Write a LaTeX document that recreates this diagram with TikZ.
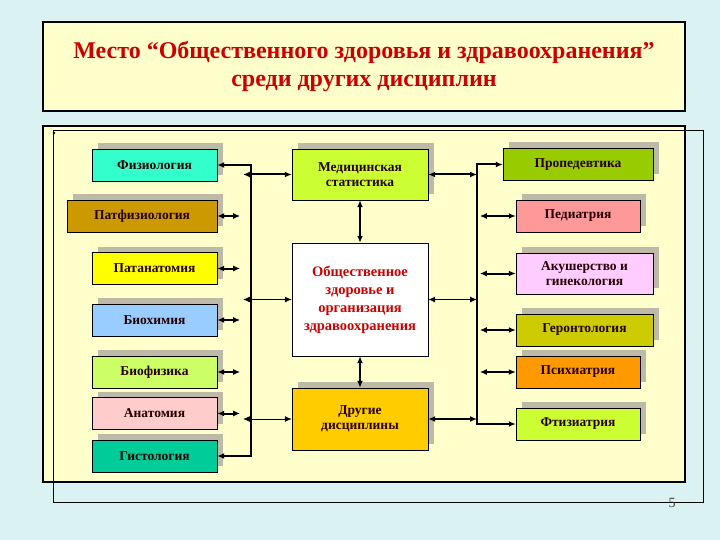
\documentclass[tikz,border=0pt]{standalone}
\usepackage{fontspec}
\setmainfont{Liberation Serif}
\usepackage{xcolor}
\usepackage{tikz}
\usetikzlibrary{arrows.meta,positioning,calc,shadows}
\definecolor{pageCyan}{RGB}{218,242,242}
\definecolor{panelYellow}{RGB}{255,255,204}
\definecolor{shadowGray}{RGB}{190,186,168}
\definecolor{titleRed}{RGB}{204,0,0}
\definecolor{fizColor}{RGB}{51,255,204}
\definecolor{patfizColor}{RGB}{204,153,0}
\definecolor{patanatColor}{RGB}{255,255,0}
\definecolor{biochemColor}{RGB}{153,204,255}
\definecolor{biophysColor}{RGB}{204,255,102}
\definecolor{anatColor}{RGB}{255,204,204}
\definecolor{histColor}{RGB}{0,204,153}
\definecolor{medstatColor}{RGB}{204,255,51}
\definecolor{otherColor}{RGB}{255,204,0}
\definecolor{propedColor}{RGB}{153,204,0}
\definecolor{pediatrColor}{RGB}{255,153,153}
\definecolor{akushColor}{RGB}{255,204,255}
\definecolor{gerontColor}{RGB}{204,204,0}
\definecolor{psychColor}{RGB}{255,153,0}
\definecolor{ftizColor}{RGB}{204,255,51}

\begin{document}
\begin{tikzpicture}[
    x=1pt, y=-1pt,
    frame/.style={draw, line width=2pt, fill=panelYellow},
    box/.style={rectangle, draw, thin, minimum width=125pt, minimum height=32pt, inner sep=2pt, align=center,
        font=\bfseries\fontsize{13.5}{15}\selectfont, text=black!85!red,
        drop shadow={shadow xshift=6pt, shadow yshift=6pt, fill=shadowGray, opacity=1}},
    tip/.style={Latex[length=7pt,width=6pt]},
    arrow/.style={line width=2pt, -{Latex[length=7pt,width=6pt]}},
    darrow/.style={line width=2pt, {Latex[length=7pt,width=6pt]}-{Latex[length=7pt,width=6pt]}},
    tarrow/.style={line width=1pt, {Latex[length=7pt,width=6pt]}-{Latex[length=7pt,width=6pt]}}
]
    % Background
    \fill[pageCyan] (0,0) rectangle (720,540);
    \useasboundingbox (0,0) rectangle (720,540);

    % Title
    \node[frame, minimum width=642pt, minimum height=89pt, align=center, text=titleRed,
        font=\bfseries\fontsize{24}{28}\selectfont] (title) at (364,66.5)
        {Место “Общественного здоровья и здравоохранения”\\среди других дисциплин};

    % Panel
    \node[frame, minimum width=642pt, minimum height=356pt] (panel) at (364,304) {};
    \draw[thin] (53,130) rectangle (703,502);
    \fill (54,133) circle (1.3pt);

    % Left column
    \node[box, fill=fizColor] (fiz) at (154.5,165) {Физиология};
    \node[box, fill=patfizColor, minimum width=150pt] (patfiz) at (142,216) {Патфизиология};
    \node[box, fill=patanatColor] (patanat) at (154.5,268.5) {Патанатомия};
    \node[box, fill=biochemColor] (biochem) at (154.5,320) {Биохимия};
    \node[box, fill=biophysColor] (biophys) at (154.5,372) {Биофизика};
    \node[box, fill=anatColor] (anat) at (154.5,413.5) {Анатомия};
    \node[box, fill=histColor] (hist) at (154.5,456) {Гистология};

    % Centre column
    \node[box, fill=medstatColor, minimum width=136pt, minimum height=51pt] (medstat) at (360,174.5) {Медицинская\\статистика};
    \node[rectangle, draw, thin, fill=white, minimum width=136pt, minimum height=113pt, align=center,
        text=titleRed, font=\bfseries\fontsize{14.5}{18}\selectfont] (ozz) at (360,299.5)
        {Общественное\\здоровье и\\организация\\здравоохранения};
    \node[box, fill=otherColor, minimum width=136pt, minimum height=62pt] (other) at (360,419) {Другие\\дисциплины};

    % Right column
    \node[box, fill=propedColor, minimum width=150pt] (proped) at (578,164.5) {Пропедевтика};
    \node[box, fill=pediatrColor, minimum width=124pt] (pediatr) at (578,216) {Педиатрия};
    \node[box, fill=akushColor, minimum width=137pt, minimum height=41pt] (akush) at (584.5,273.5) {Акушерство и\\гинекология};
    \node[box, fill=gerontColor, minimum width=137pt] (geront) at (584.5,330) {Геронтология};
    \node[box, fill=psychColor, minimum width=124pt] (psych) at (578,372) {Психиатрия};
    \node[box, fill=ftizColor, minimum width=124pt] (ftiz) at (578,424) {Фтизиатрия};

    % Buses
    \coordinate (lbus) at (251,0);
    \coordinate (rbus) at (477,0);
    \draw[darrow] (fiz.east) -- (fiz.east -| lbus) -- (hist.east -| lbus) -- (hist.east);
    \draw[darrow] (proped.west) -- (proped.west -| rbus) -- (ftiz.west -| rbus) -- (ftiz.west);

    % Left arrows
    \foreach \n in {patfiz,patanat,biochem,biophys,anat}
        \draw[darrow] (\n.east) -- ++(23,0);
    \draw[darrow] ([xshift=-8pt]medstat.west -| lbus) -- (medstat.west);
    \draw[tarrow] ([xshift=-8pt]ozz.west -| lbus) -- (ozz.west);
    \draw[tarrow] ([xshift=-8pt]other.west -| lbus) -- (other.west);

    % Centre arrows
    \draw[darrow] (medstat.south) -- (ozz.north);
    \draw[darrow] (ozz.south) -- (other.north);

    % Right arrows
    \draw[darrow] (medstat.east) -- (medstat.east -| rbus);
    \draw[tarrow] (ozz.east) -- (ozz.east -| rbus);
    \draw[darrow] (other.east) -- (other.east -| rbus);
    \foreach \n in {pediatr,akush,geront,psych}
        \draw[darrow] (\n.west) -- ++(-36,0);

    % Page number
    \node[font=\fontsize{14}{16}\selectfont, text=black!75] (pagenum) at (672,503) {5};
\end{tikzpicture}
\end{document}
